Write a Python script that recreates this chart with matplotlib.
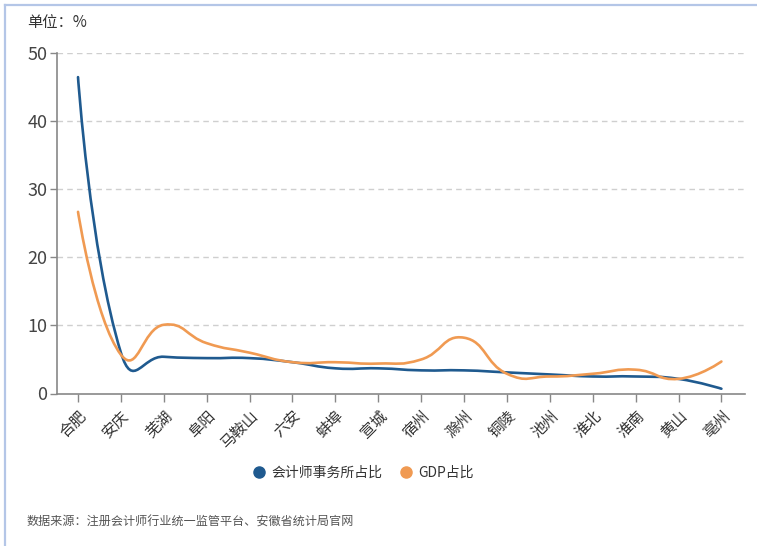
import numpy as np
import matplotlib
matplotlib.use('Agg')
import matplotlib.pyplot as plt
from matplotlib.path import Path
from matplotlib.patches import PathPatch
from matplotlib.lines import Line2D

plt.rcParams['font.family'] = ['Noto Sans CJK SC', 'DejaVu Sans']

# 数据
cities = ['合肥', '安庆', '芜湖', '阜阳', '马鞍山', '六安', '蚌埠', '宣城',
          '宿州', '滁州', '铜陵', '池州', '淮北', '淮南', '黄山', '亳州']
acc_share = [46.5, 6.0, 5.4, 5.2, 5.2, 4.6, 3.7, 3.7, 3.4, 3.4, 3.1, 2.8, 2.5, 2.5, 2.15, 0.7]
gdp_share = [26.7, 5.7, 10.1, 7.4, 6.0, 4.6, 4.6, 4.4, 5.0, 8.2, 2.9, 2.5, 2.9, 3.5, 2.15, 4.7]
yticks = [0, 10, 20, 30, 40, 50]

BLUE = '#1f5a8f'
ORANGE = '#f09a52'


def smooth_path(ys, k=0.5, sx=42.9, sy=6.8, dy=2.5):
    # 平滑曲线 (bezier), 控制点按距离分配
    px = np.arange(len(ys), dtype=float) * sx
    py = np.asarray(ys, dtype=float) * sy
    qy = np.asarray(ys, dtype=float) * dy
    n = len(px)
    cps = []
    for i in range(n):
        if i == 0 or i == n - 1:
            cps.append(((px[i], py[i]), (px[i], py[i])))
            continue
        vx = (px[i + 1] - px[i - 1]) * k
        vy = (py[i + 1] - py[i - 1]) * k
        d0 = np.hypot(px[i] - px[i - 1], qy[i] - qy[i - 1])
        d1 = np.hypot(px[i + 1] - px[i], qy[i + 1] - qy[i])
        s = d0 + d1
        d0, d1 = d0 / s, d1 / s
        cps.append(((px[i] - vx * d0, py[i] - vy * d0),
                    (px[i] + vx * d1, py[i] + vy * d1)))
    verts = [(px[0], py[0])]
    codes = [Path.MOVETO]
    for i in range(n - 1):
        verts += [cps[i][1], cps[i + 1][0], (px[i + 1], py[i + 1])]
        codes += [Path.CURVE4] * 3
    verts = np.array(verts) / [sx, sy]
    return Path(verts, codes)


fig = plt.figure(figsize=(7.57, 5.46), dpi=100)
ax = fig.add_axes([57 / 757, 1 - 393.5 / 546, (745 - 57) / 757, (393.5 - 53.3) / 546])

x = np.arange(len(cities))
ax.set_xlim(-0.49, 15.55)
ax.set_ylim(0, 50)

for ys, c in [(acc_share, BLUE), (gdp_share, ORANGE)]:
    ax.add_patch(PathPatch(smooth_path(ys), facecolor='none', edgecolor=c,
                           lw=1.9, capstyle='round', joinstyle='round', zorder=3))

# 网格
for yv in yticks[1:]:
    ax.axhline(yv, color='#cfcfcf', lw=1.0, ls=(0, (4, 3)), zorder=1)

ax.set_yticks(yticks)
ax.set_xticks(x)
ax.set_xticklabels(cities, rotation=45, ha='right', va='top',
                   rotation_mode='anchor', fontsize=11, color='#333333')
ax.tick_params(axis='y', labelsize=13, colors='#444444', length=5, width=1, pad=2)
ax.tick_params(axis='x', length=6, width=1, color='#888888', pad=4)
ax.tick_params(axis='y', color='#888888')

for s in ['top', 'right']:
    ax.spines[s].set_visible(False)
for s in ['left', 'bottom']:
    ax.spines[s].set_color('#888888')
    ax.spines[s].set_linewidth(1.2)

fig.text(27 / 757, 1 - 22 / 546, '单位：%', fontsize=11, color='#333333', va='center')

handles = [Line2D([], [], ls='none', marker='o', markersize=8, color=BLUE),
           Line2D([], [], ls='none', marker='o', markersize=8, color=ORANGE)]
fig.legend(handles, ['会计师事务所占比', 'GDP占比'], loc='center',
           bbox_to_anchor=(363 / 757, 1 - 473 / 546), ncol=2, frameon=False,
           fontsize=10, handlelength=1.0, handletextpad=0.4, columnspacing=1.2,
           labelcolor='#333333')

fig.text(27 / 757, 1 - 522 / 546, '数据来源：注册会计师行业统一监管平台、安徽省统计局官网',
         fontsize=8.7, color='#555555', va='center')

# 边框
fig.add_artist(Line2D([5 / 757, 1], [1 - 5 / 546, 1 - 5 / 546], color='#b4c6e7', lw=1.6))
fig.add_artist(Line2D([5 / 757, 5 / 757], [0, 1 - 5 / 546], color='#b4c6e7', lw=1.6))

fig.savefig('out.png', dpi=100)
